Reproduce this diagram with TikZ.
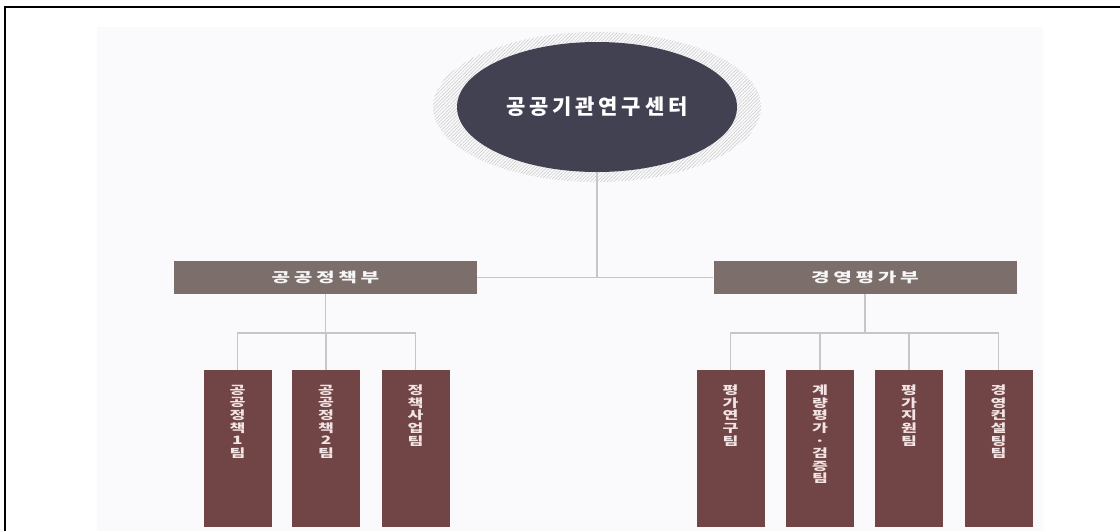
\documentclass[tikz,border=0pt]{standalone}
\usepackage{fontspec}
\newfontfamily\kr{Noto Sans CJK KR}
\newfontfamily\krsp{Noto Sans CJK KR}[LetterSpace=18]
\usetikzlibrary{shapes.geometric,patterns.meta}
\definecolor{panel}{HTML}{FAFAFC}
\definecolor{rootfill}{HTML}{414152}
\definecolor{deptfill}{HTML}{7C6F6B}
\definecolor{teamfill}{HTML}{714545}
\definecolor{linec}{HTML}{C6C6C6}
\definecolor{teamtext}{HTML}{F2E4E4}
\newcommand{\vlabel}[1]{\scalebox{1.5}[1]{\parbox[t]{20pt}{\centering\baselineskip=12.6pt\lineskiplimit=-20pt #1}}}
\tikzset{
  conn/.style={draw=linec, line width=1.6pt},
  dept/.style={rectangle, fill=deptfill, minimum width=303pt, minimum height=33pt, inner sep=0pt,
    text=white!94!deptfill, font=\krsp\bfseries\fontsize{13.5}{15}\selectfont},
  team/.style={rectangle, fill=teamfill, minimum width=68pt, minimum height=157pt, inner sep=0pt},
  teamlabel/.style={anchor=north, align=center, text=teamtext, inner sep=0pt,
    font=\kr\bfseries\fontsize{11.5}{12.6}\selectfont}
}
\begin{document}
\begin{tikzpicture}[x=1pt,y=-1pt]
\useasboundingbox (0,0) rectangle (1120,531);
\fill[white] (0,0) rectangle (1120,531);
% frame (top and left edges)
\draw[black, line width=2pt] (5,531) -- (5,7) -- (1120,7);
% panel
\fill[panel] (97,27) rectangle (1043,531);
% ring
\fill[pattern={Lines[angle=45,distance=2.4pt,line width=0.5pt]}, pattern color=black!22] (597,107) ellipse [x radius=164, y radius=75];
% root
\node[ellipse, fill=rootfill, minimum width=280pt, minimum height=130pt, inner sep=0pt,
  text=white, font=\krsp\bfseries\fontsize{21}{23}\selectfont] (root) at (597,107) {공공기관연구센터};
% departments
\node[dept] (dL) at (325.5,277.5) {\scalebox{1.5}[1]{공공정책부}};
\node[dept] (dR) at (865,277.5) {\scalebox{1.5}[1]{경영평가부}};
\coordinate (jR) at (597,277.5);
\draw[conn] (root.south) -- (jR);
\draw[conn] (dL.east) -- (dR.west);
% teams
\node[team] (t1) at (237.5,448.5) {};
\node[team] (t2) at (326,448.5) {};
\node[team] (t3) at (415.5,448.5) {};
\node[team] (t4) at (730.5,448.5) {};
\node[team] (t5) at (820,448.5) {};
\node[team] (t6) at (909,448.5) {};
\node[team] (t7) at (998.5,448.5) {};
\node[teamlabel] (l1) at ([yshift=-15pt]t1.north) {\vlabel{공\\공\\정\\책\\1\\팀}};
\node[teamlabel] (l2) at ([yshift=-15pt]t2.north) {\vlabel{공\\공\\정\\책\\2\\팀}};
\node[teamlabel] (l3) at ([yshift=-15pt]t3.north) {\vlabel{정\\책\\사\\업\\팀}};
\node[teamlabel] (l4) at ([yshift=-15pt]t4.north) {\vlabel{평\\가\\연\\구\\팀}};
\node[teamlabel] (l5) at ([yshift=-15pt]t5.north) {\vlabel{계\\량\\평\\가\\·\\검\\증\\팀}};
\node[teamlabel] (l6) at ([yshift=-15pt]t6.north) {\vlabel{평\\가\\지\\원\\팀}};
\node[teamlabel] (l7) at ([yshift=-15pt]t7.north) {\vlabel{경\\영\\컨\\설\\팅\\팀}};
% left tree
\coordinate (jL) at (325.5,333);
\coordinate (jRR) at (865,333);
\draw[conn] (dL.south) -- (jL);
\draw[conn] (t1.north) -- (t1.north |- jL) -- (t3.north |- jL) -- (t3.north);
\draw[conn] (t2.north) -- (t2.north |- jL);
% right tree
\draw[conn] (dR.south) -- (jRR);
\draw[conn] (t4.north) -- (t4.north |- jRR) -- (t7.north |- jRR) -- (t7.north);
\draw[conn] (t5.north) -- (t5.north |- jRR);
\draw[conn] (t6.north) -- (t6.north |- jRR);
\end{tikzpicture}
\end{document}
